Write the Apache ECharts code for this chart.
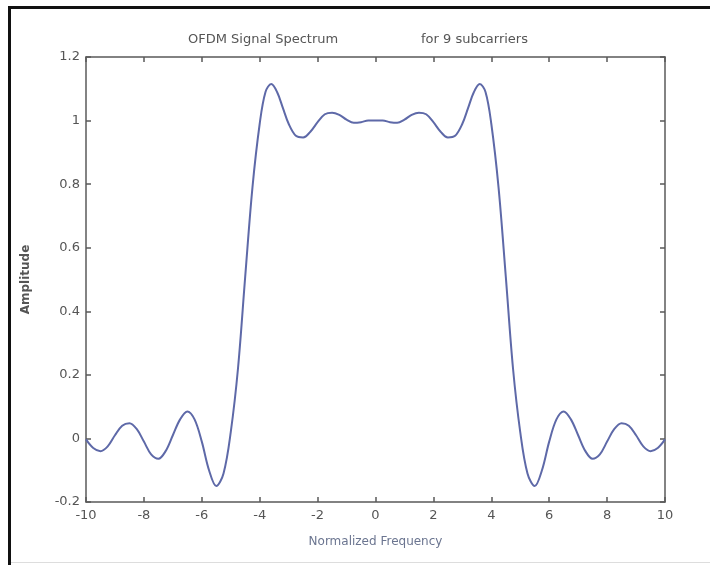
<!DOCTYPE html>
<html>
<head>
<meta charset="utf-8">
<script src="https://cdn.jsdelivr.net/npm/echarts@6/dist/echarts.min.js"></script>
<style>
  html, body { margin: 0; padding: 0; background: #fff; }
  #chart { width: 710px; height: 565px; }
</style>
</head>
<body>
<div id="chart"></div>
<script>
// frequency samples (normalized) and amplitude
var freq = [
  -10, -9.75, -9.5, -9.25, -9, -8.75, -8.5, -8.25, -8, -7.75, -7.5, -7.25, -7, -6.75, -6.5, -6.25,
  -6, -5.75, -5.5, -5.25, -5, -4.75, -4.5, -4.25, -4, -3.8, -3.6, -3.4, -3.2, -3, -2.75, -2.5, -2.25,
  -2, -1.75, -1.5, -1.25, -1, -0.75, -0.5, -0.25, 0, 0.25, 0.5, 0.75, 1, 1.25, 1.5, 1.75,
  2, 2.25, 2.5, 2.75, 3, 3.2, 3.4, 3.6, 3.8, 4, 4.25, 4.5, 4.75, 5, 5.25, 5.5, 5.75,
  6, 6.25, 6.5, 6.75, 7, 7.25, 7.5, 7.75, 8, 8.25, 8.5, 8.75, 9, 9.25, 9.5, 9.75, 10
];
var amplitude = [
  -0.003, -0.03, -0.04, -0.025, 0.01, 0.04, 0.048, 0.03, -0.01, -0.05, -0.064, -0.04, 0.01, 0.06, 0.085, 0.06,
  -0.01, -0.1, -0.15, -0.11, 0.02, 0.22, 0.51, 0.79, 0.99, 1.09, 1.115, 1.09, 1.04, 0.99, 0.952, 0.947, 0.965,
  0.995, 1.02, 1.025, 1.018, 1.003, 0.993, 0.995, 1.0, 1.0, 1.0, 0.995, 0.993, 1.003, 1.018, 1.025, 1.02,
  0.995, 0.965, 0.947, 0.952, 0.99, 1.04, 1.09, 1.115, 1.09, 0.99, 0.79, 0.51, 0.22, 0.02, -0.11, -0.15, -0.1,
  -0.01, 0.06, 0.085, 0.06, 0.01, -0.04, -0.064, -0.05, -0.01, 0.03, 0.048, 0.04, 0.01, -0.025, -0.04, -0.03, -0.003
];

var chart = echarts.init(document.getElementById('chart'));

var axisColor = '#5a5a5a';
var font = 'DejaVu Sans';

var boxAxis = {
  axisLine: { show: true, onZero: false, lineStyle: { color: axisColor, width: 1.5 } },
  axisTick: { show: true, inside: true, length: 5, lineStyle: { color: axisColor, width: 1.5 } },
  splitLine: { show: false }
};

chart.setOption({
  animation: false,
  backgroundColor: '#fff',
  title: [
    { text: 'OFDM Signal Spectrum', left: 183, top: 28,
      textStyle: { fontFamily: font, fontSize: 13, fontWeight: 'normal', color: '#555' } },
    { text: 'for 9 subcarriers', left: 416, top: 28,
      textStyle: { fontFamily: font, fontSize: 13, fontWeight: 'normal', color: '#555' } }
  ],
  grid: { left: 86, right: 45, top: 57, bottom: 63 },
  xAxis: [
    Object.assign({}, boxAxis, {
      type: 'value', min: -10, max: 10, interval: 2, position: 'bottom',
      name: 'Normalized Frequency', nameLocation: 'middle', nameGap: 34,
      nameTextStyle: { fontFamily: font, fontSize: 12, color: '#6b7590' },
      axisLabel: { fontFamily: font, fontSize: 13, color: '#555', margin: 7 }
    }),
    Object.assign({}, boxAxis, {
      type: 'value', min: -10, max: 10, interval: 2, position: 'top',
      axisLabel: { show: false }
    })
  ],
  yAxis: [
    Object.assign({}, boxAxis, {
      type: 'value', min: -0.2, max: 1.2, interval: 0.2, position: 'left',
      name: 'Amplitude', nameLocation: 'middle', nameGap: 54,
      nameTextStyle: { fontFamily: font, fontSize: 12, fontWeight: 'bold', color: '#555' },
      axisLabel: { fontFamily: font, fontSize: 13, color: '#555', margin: 6 }
    }),
    Object.assign({}, boxAxis, {
      type: 'value', min: -0.2, max: 1.2, interval: 0.2, position: 'right',
      axisLabel: { show: false }
    })
  ],
  graphic: [
    { type: 'rect', shape: { x: 8, y: 6, width: 3, height: 559 }, style: { fill: '#111' } },
    { type: 'rect', shape: { x: 8, y: 6, width: 702, height: 3 }, style: { fill: '#111' } },
    { type: 'rect', shape: { x: 11, y: 562, width: 699, height: 1 }, style: { fill: '#ddd' } }
  ],
  series: [{
    type: 'line',
    data: freq.map(function (f, i) { return [f, amplitude[i]]; }),
    smooth: 0.35,
    showSymbol: false,
    lineStyle: { color: '#5e69a8', width: 2 }
  }]
});
</script>
</body>
</html>
